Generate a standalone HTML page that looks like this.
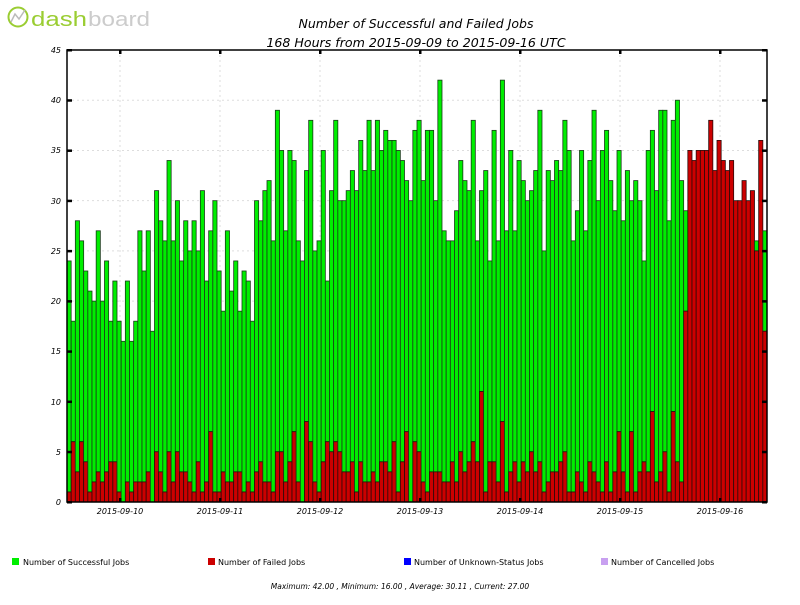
<!DOCTYPE html>
<html><head><meta charset="utf-8"><style>
body{margin:0;background:#fff;width:800px;height:600px;overflow:hidden;font-family:"Liberation Sans",sans-serif}
svg text{font-family:"DejaVu Sans","Liberation Sans",sans-serif}
</style></head><body>
<svg id="s" width="800" height="600" xmlns="http://www.w3.org/2000/svg">
<rect width="800" height="600" fill="#fff"/>
<g>
<circle cx="18" cy="17" r="9.5" fill="none" stroke="#9acd32" stroke-width="2"/>
<path d="M11 22 L15 14 L19 19 L25 10" fill="none" stroke="#bbb" stroke-width="1.5"/>
<text x="31" y="26" font-size="20" fill="#9acd32" textLength="56" lengthAdjust="spacingAndGlyphs" style="font-family:'Liberation Sans',sans-serif">dash</text>
<text x="88" y="26" font-size="20" fill="#ccc" textLength="62" lengthAdjust="spacingAndGlyphs" style="font-family:'Liberation Sans',sans-serif">board</text>
</g>
<text x="416" y="28" font-size="12.5" font-style="italic" text-anchor="middle" fill="#000">Number of Successful and Failed Jobs</text>
<text x="416" y="47" font-size="12.6" font-style="italic" text-anchor="middle" fill="#000">168 Hours from 2015-09-09 to 2015-09-16 UTC</text>
<g id="grid"></g>
<g id="bars"></g>
<rect x="67" y="50" width="700" height="452" fill="none" stroke="#000" stroke-width="1.5"/>
<g id="ticks"></g>
<g font-size="8" font-style="italic" fill="#000" text-anchor="end">
<text x="61" y="505">0</text><text x="61" y="455">5</text><text x="61" y="405">10</text><text x="61" y="354">15</text><text x="61" y="304">20</text><text x="61" y="254">25</text><text x="61" y="204">30</text><text x="61" y="153">35</text><text x="61" y="103">40</text><text x="61" y="53">45</text>
</g>
<g font-size="8" font-style="italic" fill="#000" text-anchor="middle">
<text x="120" y="514">2015-09-10</text><text x="220" y="514">2015-09-11</text><text x="320" y="514">2015-09-12</text><text x="420" y="514">2015-09-13</text><text x="520" y="514">2015-09-14</text><text x="620" y="514">2015-09-15</text><text x="720" y="514">2015-09-16</text>
</g>
<g font-size="8" fill="#000">
<rect x="12" y="558" width="7" height="7" fill="#00ee00"/><text x="23" y="565">Number of Successful Jobs</text>
<rect x="208" y="558" width="7" height="7" fill="#cc0000"/><text x="218" y="565">Number of Failed Jobs</text>
<rect x="404" y="558" width="7" height="7" fill="#0000ff"/><text x="414" y="565">Number of Unknown-Status Jobs</text>
<rect x="601" y="558" width="7" height="7" fill="#c8a0f0"/><text x="611" y="565">Number of Cancelled Jobs</text>
<text x="400" y="589" text-anchor="middle" font-style="italic" font-size="7.5">Maximum: 42.00 , Minimum: 16.00 , Average: 30.11 , Current: 27.00</text>
</g>
</svg>
<script>
var T=[24,18,28,26,23,21,20,27,20,24,18,22,18,16,22,16,18,27,23,27,17,31,28,26,34,26,30,24,28,25,28,25,31,22,27,30,23,19,27,21,24,19,
23,22,18,30,28,31,32,26,39,35,27,35,34,26,24,33,38,25,26,35,22,31,38,30,30,31,33,31,36,33,38,33,38,35,37,36,36,35,34,32,
30,37,38,32,37,37,30,42,27,26,26,29,34,32,31,38,26,31,33,24,37,26,42,27,35,27,34,32,30,31,33,39,25,33,32,34,33,38,35,26,29,35,27,34,
39,30,35,37,32,29,35,28,33,30,32,30,24,35,37,31,39,39,28,38,40,32,29,35,34,35,35,35,38,33,36,34,33,34,30,30,32,30,31,26,36,27];
var R=[1,6,3,6,4,1,2,3,2,3,4,4,1,0,2,1,2,2,2,3,0,5,3,1,5,2,5,3,3,2,1,4,1,2,7,1,1,3,2,2,3,3,
1,2,1,3,4,2,2,1,5,5,2,4,7,2,0,8,6,2,1,4,6,5,6,5,3,3,4,1,4,2,2,3,2,4,4,3,6,1,4,7,0,
6,5,2,1,3,3,3,2,2,4,2,5,3,4,6,4,11,1,4,4,2,8,1,3,4,2,4,3,5,3,4,1,2,3,3,4,5,1,1,3,2,1,4,
3,2,1,4,1,3,7,3,1,7,1,3,4,3,9,2,3,5,1,9,4,2,19];
for(var i=149;i<168;i++)R[i]=T[i];R[164]=31;R[165]=25;R[167]=17;
var k=452/45,w=700/168,h="",g="",t="";
for(var i=0;i<168;i++){var x=67+i*w,ht=T[i]*k,hr=R[i]*k;
h+='<rect x="'+x.toFixed(2)+'" y="'+(502-ht).toFixed(2)+'" width="'+w.toFixed(2)+'" height="'+(ht-hr).toFixed(2)+'" fill="#00ee00" stroke="#1a3a1a" stroke-width="0.8"/>';
if(hr>0)h+='<rect x="'+x.toFixed(2)+'" y="'+(502-hr).toFixed(2)+'" width="'+w.toFixed(2)+'" height="'+hr.toFixed(2)+'" fill="#cc0000" stroke="#2a0a0a" stroke-width="0.8"/>';}
for(var v=5;v<45;v+=5){var y=502-v*k;g+='<line x1="67" x2="767" y1="'+y+'" y2="'+y+'" stroke="#ddd" stroke-dasharray="2,3"/>';}
for(var d=0;d<7;d++){var x=120+d*100;g+='<line x1="'+x+'" x2="'+x+'" y1="50" y2="502" stroke="#ddd" stroke-dasharray="2,3"/>';
t+='<rect x="'+(x-1)+'" y="50" width="2.5" height="4" fill="#000"/><rect x="'+(x-1)+'" y="498" width="2.5" height="4" fill="#000"/>';}
for(var v=0;v<=45;v+=5){var y=502-v*k;t+='<rect x="67" y="'+(y-1)+'" width="5" height="2.5" fill="#000"/><rect x="762" y="'+(y-1)+'" width="5" height="2.5" fill="#000"/>';}
document.getElementById('grid').innerHTML=g;document.getElementById('bars').innerHTML=h;document.getElementById('ticks').innerHTML=t;
</script>
</body></html>
